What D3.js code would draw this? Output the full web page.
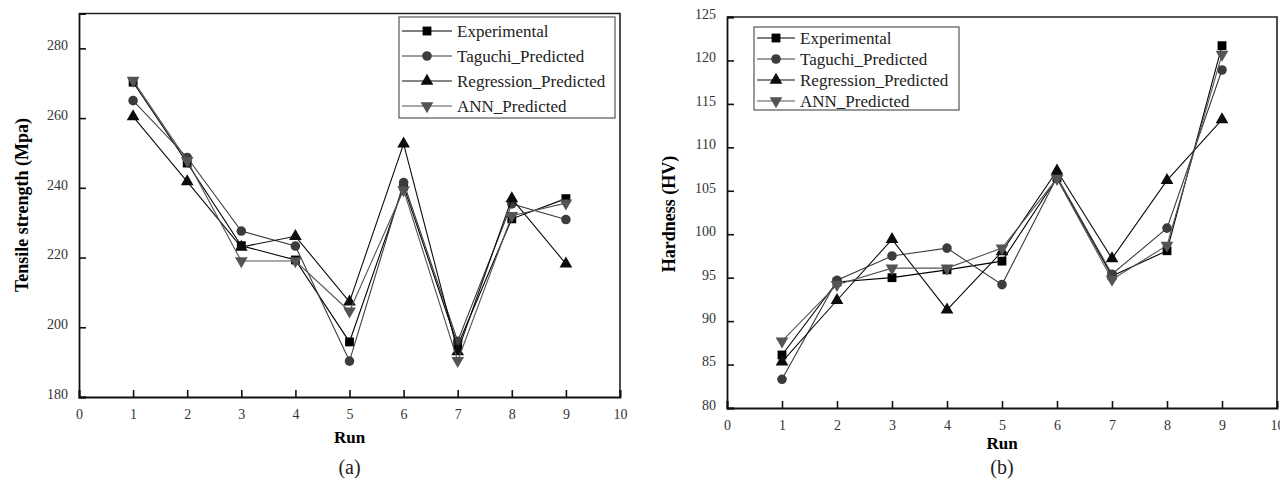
<!DOCTYPE html>
<html>
<head>
<meta charset="utf-8">
<script src="https://cdn.jsdelivr.net/npm/d3@7"></script>
<style>
  body { margin: 0; background: #fff; }
  svg { display: block; font-family: "Liberation Serif", "DejaVu Serif", serif; }
</style>
</head>
<body>
<svg id="chart" width="1280" height="488"></svg>
<script>
// data
const runs = [1, 2, 3, 4, 5, 6, 7, 8, 9];
const seriesNames = ["Experimental", "Taguchi_Predicted", "Regression_Predicted", "ANN_Predicted"];
const xTicks = [0, 1, 2, 3, 4, 5, 6, 7, 8, 9, 10];

const tensileExp = [270.3, 247.1, 223.4, 219.3, 195.8, 240.5, 194.8, 231.1, 236.9];
const tensileTaguchi = [265.0, 248.7, 227.6, 223.3, 190.3, 241.5, 196.0, 235.4, 230.9];
const tensileRegression = [260.4, 241.8, 223.0, 226.1, 207.3, 252.6, 193.0, 236.9, 218.2];
const tensileAnn = [270.8, 247.8, 219.0, 219.0, 204.6, 239.4, 190.4, 232.0, 235.6];
const tensileTicks = [180, 200, 220, 240, 260, 280];

const hardExp = [86.1, 94.5, 95.0, 95.9, 96.9, 106.5, 95.2, 98.1, 121.7];
const hardTaguchi = [83.3, 94.7, 97.5, 98.4, 94.2, 106.6, 95.4, 100.7, 118.9];
const hardRegression = [85.3, 92.4, 99.4, 91.3, 98.0, 107.3, 97.2, 106.2, 113.2];
const hardAnn = [87.7, 94.2, 96.1, 96.1, 98.4, 106.4, 94.8, 98.7, 120.7];
const hardTicks = [80, 85, 90, 95, 100, 105, 110, 115, 120, 125];

const colors = ["#000000", "#3c3c3c", "#0c0c0c", "#545454"];
const shapes = [
  d3.symbol().type(d3.symbolSquare).size(78),
  d3.symbol().type(d3.symbolCircle).size(72),
  d3.symbol().type(d3.symbolTriangle).size(70),
  d3.symbol().type(d3.symbolTriangle).size(70)
];
const rotations = [0, 0, 0, 180];

const svg = d3.select("#chart");

const drawPanel = (opt) => {
  const g = svg.append("g");
  const x = d3.scaleLinear().domain([0, 10]).range([opt.left, opt.right]);
  const y = d3.scaleLinear().domain(opt.yDomain).range([opt.bottom, opt.top]);

  // frame (top + right)
  g.append("path")
    .attr("d", `M${opt.left},${opt.top}H${opt.right}V${opt.bottom}`)
    .attr("fill", "none").attr("stroke", "#222").attr("stroke-width", 1.6);

  // axes, ticks pointing inwards
  const xAxis = g.append("g")
    .attr("transform", `translate(0,${opt.bottom})`)
    .call(d3.axisBottom(x).tickValues(xTicks).tickSize(-7).tickPadding(12).tickFormat(d3.format("d")));
  const yAxis = g.append("g")
    .attr("transform", `translate(${opt.left},0)`)
    .call(d3.axisLeft(y).tickValues(opt.yTicks).tickSize(-7).tickPadding(11).tickFormat(d3.format("d")));
  [xAxis, yAxis].forEach(a => {
    a.select(".domain").attr("stroke", "#111").attr("stroke-width", 1.8);
    a.selectAll(".tick line").attr("stroke", "#111").attr("stroke-width", 1.6);
    a.selectAll(".tick text")
      .attr("font-family", "Liberation Serif, serif")
      .attr("font-size", 14).attr("fill", "#333");
  });
  yAxis.selectAll(".tick text").attr("dy", "0.1em");

  // series
  opt.series.forEach((vals, i) => {
    const pts = runs.map((r, j) => [r, vals[j]]);
    g.append("path")
      .datum(pts)
      .attr("fill", "none")
      .attr("stroke", colors[i])
      .attr("stroke-width", 1.1)
      .attr("d", d3.line().x(d => x(d[0])).y(d => y(d[1])));
    g.selectAll(null)
      .data(pts)
      .join("path")
      .attr("d", shapes[i])
      .attr("fill", colors[i])
      .attr("transform", d => `translate(${x(d[0])},${y(d[1])}) rotate(${rotations[i]})`);
  });

  // legend
  const lg = g.append("g").attr("transform", `translate(${opt.legend.x},${opt.legend.y})`);
  lg.append("rect")
    .attr("width", opt.legend.w).attr("height", opt.legend.h)
    .attr("fill", "#fff").attr("stroke", "#555").attr("stroke-width", 1.2);
  seriesNames.forEach((name, i) => {
    const cy = opt.legend.first + i * opt.legend.step;
    lg.append("line")
      .attr("x1", 3).attr("x2", opt.legend.lineLen + 3)
      .attr("y1", cy).attr("y2", cy)
      .attr("stroke", colors[i]).attr("stroke-width", 1.2);
    lg.append("path")
      .attr("d", shapes[i])
      .attr("fill", colors[i])
      .attr("transform", `translate(${3 + opt.legend.lineLen / 2},${cy}) rotate(${rotations[i]})`);
    lg.append("text")
      .attr("x", opt.legend.lineLen + 8).attr("y", cy)
      .attr("dy", "0.33em")
      .attr("font-size", 17).attr("fill", "#222")
      .text(name);
  });

  // titles
  const mid = (opt.left + opt.right) / 2;
  g.append("text")
    .attr("x", mid).attr("y", opt.runY)
    .attr("text-anchor", "middle").attr("font-weight", "bold").attr("font-size", 17)
    .text("Run");
  g.append("text")
    .attr("transform", `translate(${opt.yTitleX},${opt.yTitleY}) rotate(-90)`)
    .attr("text-anchor", "middle").attr("font-weight", "bold").attr("font-size", 18)
    .text(opt.yTitle);
  g.append("text")
    .attr("x", mid).attr("y", 474)
    .attr("text-anchor", "middle").attr("font-size", 20).attr("fill", "#222")
    .text(opt.tag);
};

drawPanel({
  left: 79, right: 620, top: 13.5, bottom: 397,
  yDomain: [180, 290], yTicks: tensileTicks,
  series: [tensileExp, tensileTaguchi, tensileRegression, tensileAnn],
  legend: { x: 399, y: 17, w: 216, h: 101, first: 14, step: 25, lineLen: 50 },
  yTitle: "Tensile strength (Mpa)", yTitleX: 28, yTitleY: 205, tag: "(a)", runY: 443
});

drawPanel({
  left: 727, right: 1277, top: 17, bottom: 408,
  yDomain: [80, 125], yTicks: hardTicks,
  series: [hardExp, hardTaguchi, hardRegression, hardAnn],
  legend: { x: 754, y: 27, w: 205, h: 83, first: 11, step: 21, lineLen: 38 },
  yTitle: "Hardness (HV)", yTitleX: 675, yTitleY: 214, tag: "(b)", runY: 449
});
</script>
</body>
</html>
